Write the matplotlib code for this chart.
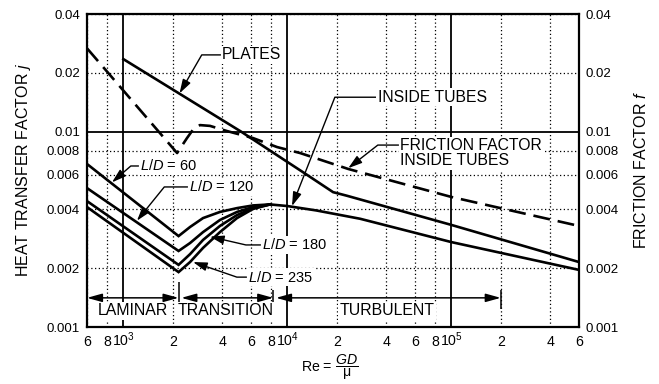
import matplotlib
matplotlib.use('Agg')
import matplotlib.pyplot as plt
from matplotlib.ticker import FixedLocator, FixedFormatter

plt.rcParams['font.family'] = ['Liberation Sans', 'DejaVu Sans']
plt.rcParams['mathtext.fontset'] = 'custom'
plt.rcParams['mathtext.rm'] = 'Liberation Sans'
plt.rcParams['mathtext.it'] = 'Liberation Sans:italic'

# heat transfer factor j inside tubes, one curve per L/D (laminar + transition)
ld_re = [600, 2170, 2550, 3060, 3880, 4930, 6170, 7840]
j_ld60 = [0.00683, 0.00292, 0.00325, 0.00361, 0.00388, 0.00406, 0.00419, 0.00424]
j_ld120 = [0.00514, 0.00245, 0.00269, 0.00306, 0.00353, 0.00388, 0.00411, 0.00424]
j_ld180 = [0.00441, 0.00208, 0.00236, 0.00279, 0.00329, 0.00374, 0.00406, 0.00424]
j_ld235 = [0.00411, 0.00191, 0.00215, 0.00254, 0.00306, 0.00361, 0.00402, 0.00424]

# turbulent inside tubes
tube_re = [7840, 10000, 15000, 27800, 1e5, 6e5]
j_tube = [0.00424, 0.00416, 0.00395, 0.00358, 0.00272, 0.00196]

# plates
plate_re = [1000, 5220, 12450, 19000, 23000, 1e5, 6e5]
j_plate = [0.0235, 0.0100, 0.0062, 0.0049, 0.0047, 0.00333, 0.00215]

# friction factor inside tubes (dashed)
f_re = [600, 2126, 2443, 2700, 2930, 3375, 4280, 6170, 8640, 11950, 23500, 1e5, 6e5]
f_tube = [0.0267, 0.00777, 0.00927, 0.01043, 0.0108, 0.0107, 0.01007, 0.00927,
          0.00834, 0.00777, 0.00644, 0.00463, 0.00329]

# regime boundaries
regime_edges = [600, 2170, 8200, 2e5]
regime_names = ['LAMINAR', 'TRANSITION', 'TURBULENT']

x_major = [1e3, 1e4, 1e5]
x_major_lbl = ['$10^3$', '$10^4$', '$10^5$']
x_minor = [600, 800, 2000, 4000, 6000, 8000, 2e4, 4e4, 6e4, 8e4, 2e5, 4e5, 6e5]
x_minor_lbl = ['6', '8', '2', '4', '6', '8', '2', '4', '6', '8', '2', '4', '6']
y_major = [0.01]
y_minor = [0.001, 0.002, 0.004, 0.006, 0.008, 0.02, 0.04]

fig = plt.figure(figsize=(6.59, 3.84), dpi=100)
ax = fig.add_axes([87/659, 1 - 327/384, 492/659, 313/384])
ax.set_xscale('log')
ax.set_yscale('log')
ax.set_xlim(600, 6e5)
ax.set_ylim(0.001, 0.04)

ax.xaxis.set_major_locator(FixedLocator(x_major))
ax.xaxis.set_major_formatter(FixedFormatter(x_major_lbl))
ax.xaxis.set_minor_locator(FixedLocator(x_minor))
ax.xaxis.set_minor_formatter(FixedFormatter(x_minor_lbl))
ax.yaxis.set_major_locator(FixedLocator(y_major))
ax.yaxis.set_major_formatter(FixedFormatter([str(v) for v in y_major]))
ax.yaxis.set_minor_locator(FixedLocator(y_minor))
ax.yaxis.set_minor_formatter(FixedFormatter([str(v) for v in y_minor]))

ax.grid(True, which='major', color='k', lw=1.3, ls='-')
ax.grid(True, which='minor', color='k', lw=0.9, ls=(0, (1, 2)))
ax.tick_params(which='both', length=0, labelsize=9.5)
ax.tick_params(axis='x', which='both', pad=14, labelsize=10.2)
ax.tick_params(axis='y', which='both', pad=5, labelright=True)
for lbl in ax.get_xticklabels(minor=False) + ax.get_xticklabels(minor=True):
    lbl.set_va('baseline')
for s in ax.spines.values():
    s.set_linewidth(1.6)

kw = dict(color='k', lw=1.9, solid_joinstyle='miter', zorder=3)
for jv in [j_ld60, j_ld120, j_ld180, j_ld235]:
    ax.plot(ld_re, jv, **kw)
ax.plot(tube_re, j_tube, **kw)
ax.plot(plate_re, j_plate, **kw)
ax.plot(f_re, f_tube, color='k', lw=1.9, ls=(0, (6.4, 3.0)), dash_capstyle='butt', zorder=3)

box = dict(boxstyle='square,pad=0.1', fc='white', ec='none')


def note(text, tip, pos, angle, relpos=(0, 0.5), size=11.3):
    ax.annotate(text, xy=tip, xytext=pos, ha='left', va='center', fontsize=size,
                bbox=box, zorder=5, linespacing=1.0,
                arrowprops=dict(arrowstyle='-|>,head_length=0.8,head_width=0.25',
                                mutation_scale=10.5,
                                lw=1.0, color='k', shrinkA=0, shrinkB=0, relpos=relpos,
                                connectionstyle='angle,angleA=0,angleB=%g,rad=0' % angle))


note('PLATES', (2200, 0.0157), (4000, 0.0247), 60)
note('INSIDE TUBES', (10670, 0.00416), (35700, 0.0150), 68.5)
note('FRICTION FACTOR\nINSIDE TUBES', (23500, 0.00650), (48700, 0.00773), 38, relpos=(0, 0.78))
note('$L/D$ = 60', (852, 0.0055), (1263, 0.00667), 41, size=10.5)
note('$L/D$ = 120', (1210, 0.0035), (2515, 0.00521), 51, size=10.5)
note('$L/D$ = 180', (3373, 0.00290), (7000, 0.00263), -13, size=10.5)
note('$L/D$ = 235', (2660, 0.00215), (5750, 0.00180), -19, size=10.5)

# regime arrows
y_arr = 0.00141
for i, name in enumerate(regime_names):
    x0, x1 = regime_edges[i], regime_edges[i + 1]
    ax.annotate('', xy=(x1, y_arr), xytext=(x0, y_arr), zorder=4,
                arrowprops=dict(arrowstyle='<|-|>,head_length=0.9,head_width=0.25',
                                mutation_scale=10, lw=1.1, color='k',
                                shrinkA=2 if i else 0, shrinkB=0))
    ax.text((x0 * x1) ** 0.5, 0.00121, name, ha='center', va='center',
            fontsize=11.4, bbox=box, zorder=5)
ax.vlines(regime_edges[1], 0.00122, 0.00170, color='k', lw=1.1, zorder=4)
ax.vlines(regime_edges[2:], 0.00124, 0.00155, color='k', lw=1.1, zorder=4)

fig.text(24/659, 1 - 170/384, 'HEAT TRANSFER FACTOR $j$', rotation=90,
         ha='center', va='center', fontsize=11.5)
fig.text(641/659, 1 - 170/384, 'FRICTION FACTOR $f$', rotation=90,
         ha='center', va='center', fontsize=11.5)
fig.text(330/659, 1 - 367/384, r'Re = $\dfrac{GD}{\mathrm{\mu}}$',
         ha='center', va='center', fontsize=10.2)

fig.savefig('out.png', dpi=100)
